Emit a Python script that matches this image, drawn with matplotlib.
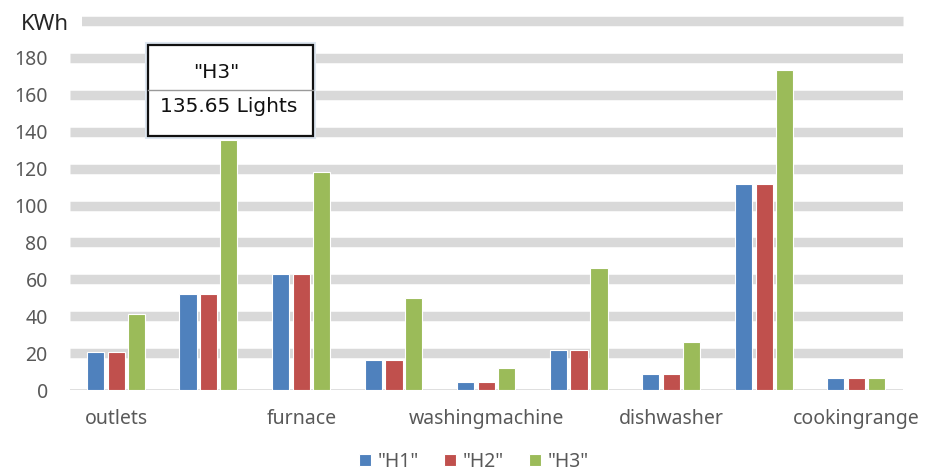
import matplotlib
matplotlib.use("Agg")
import matplotlib.pyplot as plt
from matplotlib.patches import Rectangle
from matplotlib.lines import Line2D
import numpy as np

plt.rcParams['font.family'] = ['Noto Sans', 'DejaVu Sans']

# Appliance categories (only every other one gets an axis label)
categories = ["outlets", "Lights", "furnace", "dryer", "washingmachine",
              "refrigerator", "dishwasher", "waterheater", "cookingrange"]
series_names = ['"H1"', '"H2"', '"H3"']
h1 = [20.5, 52.0, 63.0, 16.4, 4.2, 21.8, 8.8, 111.8, 6.4]
h2 = [20.5, 52.0, 63.0, 16.4, 4.2, 21.8, 8.8, 111.8, 6.4]
h3 = [41.3, 135.65, 118.0, 50.0, 12.0, 66.2, 25.9, 173.5, 6.4]
yticks = [0, 20, 40, 60, 80, 100, 120, 140, 160, 180, 200]
ytick_labels = ["0", "20", "40", "60", "80", "100", "120", "140", "160", "180", "KWh"]
colors = ["#4f81bd", "#c0504d", "#9bbb59"]

W, H = 926, 472
fig = plt.figure(figsize=(W / 100, H / 100), dpi=100)
ax = fig.add_axes([70 / W, 1 - 390 / H, (903 - 70) / W, (390 - 21) / H])

x = np.arange(len(categories))
offsets = [-0.225, 0.0, 0.215]
width = 0.185
for vals, off, col, name in zip([h1, h2, h3], offsets, colors, series_names):
    ax.bar(x + off, vals, width=width, color=col, edgecolor="white",
           linewidth=0.8, label=name, zorder=3)

ax.set_xlim(-0.5, len(categories) - 0.5)
ax.set_ylim(0, 200)
ax.set_yticks(yticks)
# the unit label sits on the top gridline, drawn separately below
ax.set_yticklabels(ytick_labels[:-1] + [""])
ax.set_xticks(x[::2])
ax.set_xticklabels(categories[::2])

ax.tick_params(axis="y", length=0, pad=16, labelsize=14, labelcolor="#595959")
ax.tick_params(axis="x", length=0, pad=14, labelsize=14, labelcolor="#595959")

ax.set_axisbelow(True)
ax.yaxis.grid(True, color="#d9d9d9", linewidth=6.8, solid_capstyle="butt")
ax.get_ygridlines()[0].set_linewidth(1.2)
ax.get_ygridlines()[-1].set_clip_on(False)
for s in ax.spines.values():
    s.set_visible(False)

# Unit label, with white space behind it on the top gridline
fig.patches.append(Rectangle((69 / W, 1 - 28 / H), 13 / W, 14 / H,
                             transform=fig.transFigure, facecolor="white",
                             edgecolor="none", zorder=5))
fig.text(69 / W, 1 - 25 / H, ytick_labels[-1], ha="right", va="center",
         fontsize=16, color="#262626", zorder=6)

# Tooltip for the Lights / H3 bar
bx0, bx1, by0, by1 = 148 / W, 313 / W, 1 - 136 / H, 1 - 45 / H
fig.patches.append(Rectangle((bx0 - 2 / W, by0 - 2 / H), bx1 - bx0 + 4 / W,
                             by1 - by0 + 4 / H, transform=fig.transFigure,
                             facecolor="none", edgecolor="#dde6f0",
                             linewidth=1.5, zorder=9))
fig.patches.append(Rectangle((bx0, by0), bx1 - bx0, by1 - by0,
                             transform=fig.transFigure, facecolor="white",
                             edgecolor="#111111", linewidth=1.6, zorder=10))
fig.lines.append(Line2D([bx0, bx1], [1 - 90 / H, 1 - 90 / H],
                        transform=fig.transFigure, color="#9a9a9a",
                        linewidth=1.0, zorder=11))
fig.text(216 / W, 1 - 73 / H, series_names[2], ha="center",
         va="center", fontsize=14.5, color="#111111", zorder=12,
         family="DejaVu Sans")
fig.text((bx0 + bx1) / 2 - 2 / W, 1 - 107 / H, f"{h3[1]:.2f} {categories[1]}",
         ha="center", va="center", fontsize=14.5, color="#111111", zorder=12,
         family="DejaVu Sans")

fig.legend(loc="center", bbox_to_anchor=(474 / W, 1 - 462 / H), ncol=3,
           frameon=False, handlelength=0.6, handleheight=0.6,
           handletextpad=0.35, columnspacing=1.3, fontsize=14,
           labelcolor="#595959")

fig.savefig("out.png", dpi=100, facecolor="white")
